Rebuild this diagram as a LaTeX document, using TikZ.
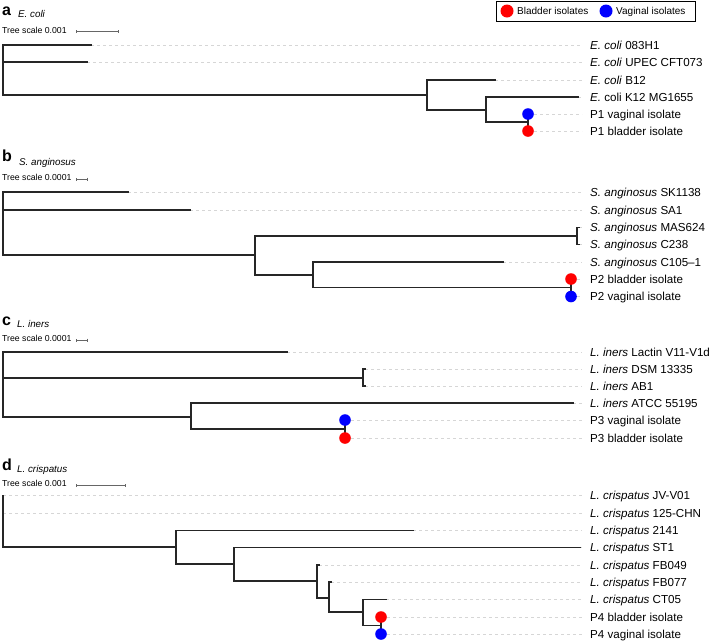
\documentclass[tikz,border=0pt]{standalone}
\usepackage{fontspec}
\setmainfont{Liberation Sans}
\usetikzlibrary{arrows.meta}
\newcommand\treekid[2]{\draw[tree] (#1 |- #2) -- (#2);}
\newcommand\treevert[3]{\draw[tree] (#1 |- #2) -- (#1 |- #3);}
\newcommand\guideline[1]{\draw[guide] (#1) -- (#1 -| gx);}
\begin{document}
\begin{tikzpicture}[x=1pt,y=-1pt,
  tree/.style={line width=1.1pt,draw=black!85,line cap=rect},
  guide/.style={line width=0.6pt,draw=black!16,dash pattern=on 3pt off 3pt},
  lab/.style={anchor=west,inner sep=0pt,text height=8.3pt,text depth=0pt,font=\fontsize{11.6}{13}\selectfont},
  dotb/.style={circle,fill=red,inner sep=0pt,minimum size=11.6pt},
  dotv/.style={circle,fill=blue,inner sep=0pt,minimum size=11.6pt},
  panel/.style={anchor=base west,inner sep=0pt,font=\fontsize{16}{18}\selectfont\bfseries},
  species/.style={anchor=base west,inner sep=0pt,font=\fontsize{9.8}{12}\selectfont\itshape},
  scaletxt/.style={anchor=base west,inner sep=0pt,font=\fontsize{8.7}{10}\selectfont},
  sbar/.style={line width=0.5pt,draw=black!60,{Bar[width=3pt]}-{Bar[width=3pt]}},
  legtxt/.style={anchor=west,inner sep=0pt,text height=7.2pt,text depth=0pt,font=\fontsize{10}{12}\selectfont}
]
\useasboundingbox (0,0) rectangle (711,641);
\coordinate (gx) at (582,0);

% ---------------- legend
\coordinate (lg1) at (496,1);
\coordinate (lg2) at (695,21);
\draw[line width=0.8pt] (lg1) rectangle (lg2);
\node[dotb,minimum size=13pt] (lgb) at (507,11) {};
\node[legtxt] (lgbt) at (517,11) {Bladder isolates};
\node[dotv,minimum size=13pt] (lgv) at (606,11) {};
\node[legtxt] (lgvt) at (616,11) {Vaginal isolates};

% ---------------- panel a
\node[panel] (pa) at (2,15) {a};
\node[species] (sa) at (18,17) {E. coli};
\node[scaletxt] (ta) at (2,33) {Tree scale 0.001};
\coordinate (sa1) at (76,31.5); \coordinate (sa2) at (118,31.5);
\draw[sbar] (sa1) -- (sa2);

\coordinate (ar) at (3,70);
\coordinate (aL1) at (91,45);
\coordinate (aL2) at (87,62);
\coordinate (a1) at (427,95);
\coordinate (aL3) at (495,80);
\coordinate (a2) at (486,110);
\coordinate (aL4) at (578,97);
\coordinate (a3) at (528,122);
\coordinate (aL5) at (528,114);
\coordinate (aL6) at (528,131);
\foreach \l in {aL1,aL2,aL3,aL4,aL5,aL6} {\guideline{\l}}
\treekid{ar}{aL1} \treekid{ar}{aL2} \treekid{ar}{a1} \treevert{ar}{aL1}{a1}
\treekid{a1}{aL3} \treekid{a1}{a2} \treevert{a1}{aL3}{a2}
\treekid{a2}{aL4} \treekid{a2}{a3} \treevert{a2}{aL4}{a3}
\treevert{a3}{aL5}{aL6}
\node[dotv] (aP1v) at (aL5) {};
\node[dotb] (aP1b) at (aL6) {};
\node[lab] (an1) at (590,45) {\textit{E. coli} 083H1};
\node[lab] (an2) at (590,62) {\textit{E. coli} UPEC CFT073};
\node[lab] (an3) at (590,80) {\textit{E. coli} B12};
\node[lab] (an4) at (590,97) {\textit{E.} coli K12 MG1655};
\node[lab] (an5) at (590,114) {P1 vaginal isolate};
\node[lab] (an6) at (590,131) {P1 bladder isolate};

% ---------------- panel b
\node[panel] (pb) at (2,161.5) {b};
\node[species] (sb) at (19,165) {S. anginosus};
\node[scaletxt] (tb) at (2,180.5) {Tree scale 0.0001};
\coordinate (sb1) at (76,179); \coordinate (sb2) at (87,179);
\draw[sbar] (sb1) -- (sb2);

\coordinate (br) at (3,220);
\coordinate (bL1) at (128,192);
\coordinate (bL2) at (190,210);
\coordinate (b1) at (255,255);
\coordinate (b2) at (577,236);
\coordinate (bL3) at (579,227.5);
\coordinate (bL4) at (579,244.5);
\coordinate (b3) at (313,275);
\coordinate (bL5) at (503,262);
\coordinate (b4) at (571,287.5);
\coordinate (bL6) at (571,279);
\coordinate (bL7) at (571,296.5);
\foreach \l in {bL1,bL2,bL3,bL4,bL5,bL6,bL7} {\guideline{\l}}
\treekid{br}{bL1} \treekid{br}{bL2} \treekid{br}{b1} \treevert{br}{bL1}{b1}
\treekid{b1}{b2} \treekid{b1}{b3} \treevert{b1}{b2}{b3}
\treekid{b2}{bL3} \treekid{b2}{bL4} \treevert{b2}{bL3}{bL4}
\treekid{b3}{bL5} \treekid{b3}{b4} \treevert{b3}{bL5}{b4}
\treevert{b4}{bL6}{bL7}
\node[dotb] (bP2b) at (bL6) {};
\node[dotv] (bP2v) at (bL7) {};
\node[lab] (bn1) at (590,192) {\textit{S. anginosus} SK1138};
\node[lab] (bn2) at (590,210) {\textit{S. anginosus} SA1};
\node[lab] (bn3) at (590,227.5) {\textit{S. anginosus} MAS624};
\node[lab] (bn4) at (590,244.5) {\textit{S. anginosus} C238};
\node[lab] (bn5) at (590,262) {\textit{S. anginosus} C105–1};
\node[lab] (bn6) at (590,279) {P2 bladder isolate};
\node[lab] (bn7) at (590,296.5) {P2 vaginal isolate};

% ---------------- panel c
\node[panel] (pc) at (2,325) {c};
\node[species] (sc) at (17,327.5) {L. iners};
\node[scaletxt] (tc) at (2,341.5) {Tree scale 0.0001};
\coordinate (sc1) at (76,340); \coordinate (sc2) at (87,340);
\draw[sbar] (sc1) -- (sc2);

\coordinate (cr) at (3,385);
\coordinate (cL1) at (287,352);
\coordinate (c1) at (363,378);
\coordinate (cL2) at (365,369);
\coordinate (cL3) at (365,386);
\coordinate (c2) at (191,417);
\coordinate (cL4) at (573,403);
\coordinate (c3) at (345,429);
\coordinate (cL5) at (345,420);
\coordinate (cL6) at (345,438);
\foreach \l in {cL1,cL2,cL3,cL4,cL5,cL6} {\guideline{\l}}
\treekid{cr}{cL1} \treekid{cr}{c1} \treekid{cr}{c2} \treevert{cr}{cL1}{c2}
\treekid{c1}{cL2} \treekid{c1}{cL3} \treevert{c1}{cL2}{cL3}
\treekid{c2}{cL4} \treekid{c2}{c3} \treevert{c2}{cL4}{c3}
\treevert{c3}{cL5}{cL6}
\node[dotv] (cP3v) at (cL5) {};
\node[dotb] (cP3b) at (cL6) {};
\node[lab] (cn1) at (590,352) {\textit{L. iners} Lactin V11-V1d};
\node[lab] (cn2) at (590,369) {\textit{L. iners} DSM 13335};
\node[lab] (cn3) at (590,386) {\textit{L. iners} AB1};
\node[lab] (cn4) at (590,403) {\textit{L. iners} ATCC 55195};
\node[lab] (cn5) at (590,420) {P3 vaginal isolate};
\node[lab] (cn6) at (590,438) {P3 bladder isolate};

% ---------------- panel d
\node[panel] (pd) at (2,470) {d};
\node[species] (sd) at (17,472) {L. crispatus};
\node[scaletxt] (td) at (2,486.5) {Tree scale 0.001};
\coordinate (sd1) at (76,485.5); \coordinate (sd2) at (125,485.5);
\draw[sbar] (sd1) -- (sd2);

\coordinate (dr) at (3,520);
\coordinate (dL1) at (3,495.5);
\coordinate (dL2) at (3,513);
\coordinate (d1) at (176,547);
\coordinate (dL3) at (413,530.5);
\coordinate (d2) at (234,564);
\coordinate (dL4) at (580,547.5);
\coordinate (d3) at (317,581);
\coordinate (dL5) at (319,565);
\coordinate (d4) at (329,598);
\coordinate (dL6) at (331,582);
\coordinate (d5) at (363,612);
\coordinate (dL7) at (386,599.5);
\coordinate (d6) at (381,625.5);
\coordinate (dL8) at (381,617);
\coordinate (dL9) at (381,634);
\foreach \l in {dL1,dL2,dL3,dL4,dL5,dL6,dL7,dL8,dL9} {\guideline{\l}}
\treekid{dr}{d1} \treevert{dr}{dL1}{d1}
\treekid{d1}{dL3} \treekid{d1}{d2} \treevert{d1}{dL3}{d2}
\treekid{d2}{dL4} \treekid{d2}{d3} \treevert{d2}{dL4}{d3}
\treekid{d3}{dL5} \treekid{d3}{d4} \treevert{d3}{dL5}{d4}
\treekid{d4}{dL6} \treekid{d4}{d5} \treevert{d4}{dL6}{d5}
\treekid{d5}{dL7} \treekid{d5}{d6} \treevert{d5}{dL7}{d6}
\treevert{d6}{dL8}{dL9}
\node[dotb] (dP4b) at (dL8) {};
\node[dotv] (dP4v) at (dL9) {};
\node[lab] (dn1) at (590,495.5) {\textit{L. crispatus} JV-V01};
\node[lab] (dn2) at (590,513) {\textit{L. crispatus} 125-CHN};
\node[lab] (dn3) at (590,530.5) {\textit{L. crispatus} 2141};
\node[lab] (dn4) at (590,547.5) {\textit{L. crispatus} ST1};
\node[lab] (dn5) at (590,565) {\textit{L. crispatus} FB049};
\node[lab] (dn6) at (590,582) {\textit{L. crispatus} FB077};
\node[lab] (dn7) at (590,599.5) {\textit{L. crispatus} CT05};
\node[lab] (dn8) at (590,617) {P4 bladder isolate};
\node[lab] (dn9) at (590,634) {P4 vaginal isolate};
\end{tikzpicture}
\end{document}
